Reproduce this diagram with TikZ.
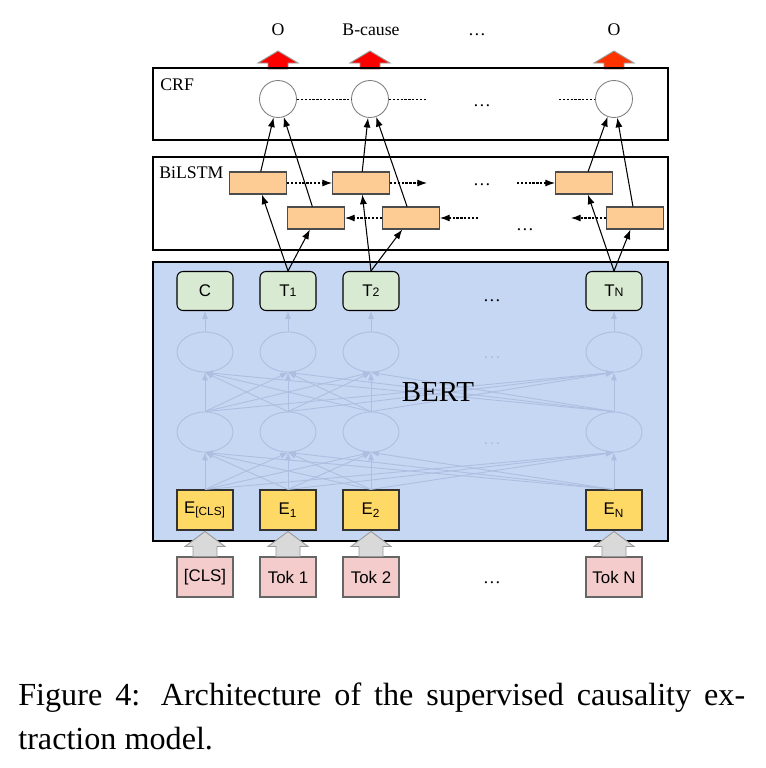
\documentclass[tikz,border=0pt]{standalone}
\usepackage{fontspec}
\setmainfont{Liberation Serif}
\setsansfont{Liberation Sans}
\usetikzlibrary{arrows.meta,shapes.geometric}
\definecolor{bertblue}{HTML}{C6D7F3}
\definecolor{faint}{HTML}{ADBEE0}
\definecolor{tgreen}{HTML}{D9EAD3}
\definecolor{eyellow}{HTML}{FFD966}
\definecolor{tokpink}{HTML}{F4CCCC}
\definecolor{lstmorange}{HTML}{FDCB94}
\definecolor{outred}{HTML}{FF0000}
\definecolor{outorange}{HTML}{FF3300}
\definecolor{inputgray}{HTML}{D9D9D9}
\newcommand{\smallidx}[1]{{\fontsize{7}{8}\selectfont #1}}

\begin{document}
\begin{tikzpicture}[x=0.02cm,y=-0.02cm,
    frame/.style={draw=black,line width=1.4pt},
    lbl/.style={font=\fontsize{10.1}{12}\selectfont},
    sanslbl/.style={font=\sffamily\fontsize{9.6}{11}\selectfont},
    tbox/.style={draw=black,fill=tgreen,rounded corners=0.12cm,minimum width=1.12cm,
      minimum height=0.78cm,inner sep=0pt,line width=0.6pt,sanslbl},
    ebox/.style={draw=black!80,fill=eyellow,minimum width=1.12cm,minimum height=0.8cm,
      inner sep=0pt,line width=0.6pt,sanslbl},
    tokbox/.style={draw=black!60,fill=tokpink,minimum width=1.12cm,minimum height=0.8cm,
      inner sep=0pt,line width=0.6pt,sanslbl},
    hidden/.style={draw=faint,ellipse,minimum width=1.12cm,minimum height=0.8cm,
      inner sep=0pt,line width=0.5pt},
    cell/.style={draw=black!70,fill=lstmorange,minimum width=1.14cm,minimum height=0.44cm,
      inner sep=0pt,line width=0.6pt},
    tag/.style={circle,draw=black!50,fill=white,minimum size=0.74cm,inner sep=0pt,line width=0.5pt},
    link/.style={-{Latex[length=5.5pt,width=4pt]},line width=0.6pt},
    recur/.style={link,dash pattern=on 1.3pt off 0.9pt},
    chain/.style={dash pattern=on 1.3pt off 0.9pt,line width=0.5pt},
    attn/.style={draw=faint,line width=0.5pt,-{Latex[length=4.5pt,width=3.5pt]}},
    dots/.style={lbl,anchor=base},
    pics/redup/.style={code={\path[pic actions] (-10,1) -- (-10,-5) -- (-20,-5) -- (0,-17)
      -- (20,-5) -- (10,-5) -- (10,1) -- cycle;}},
    pics/grayup/.style={code={\path[pic actions] (-12,0) -- (-12,-10) -- (-20,-10) -- (0,-25)
      -- (20,-10) -- (12,-10) -- (12,0) -- cycle;}},
  ]
  \useasboundingbox (0,0) rectangle (766,768);

  % outputs
  \node[dots] (o1) at (278,35) {O};
  \node[dots] (o2) at (371,35) {B-cause};
  \node[dots] (od) at (477,35) {…};
  \node[dots] (oN) at (614,35) {O};

  % CRF layer
  \draw
    (278,99) node[tag] (c1){}
    (370,99) node[tag] (c2){}
    (614,99) node[tag] (cN){};
  \coordinate (crfnw) at (153,68);
  \path (c1 |- crfnw) pic[fill=outred,draw=black!40,line width=0.5pt] {redup};
  \path (c2 |- crfnw) pic[fill=outred,draw=black!40,line width=0.5pt] {redup};
  \path (cN |- crfnw) pic[fill=outorange,draw=black!40,line width=0.5pt] {redup};
  \draw[frame] (crfnw) rectangle (668,140);
  \node[lbl,anchor=base west,inner sep=0pt] (crflbl) at (160,90) {CRF};
  \node[dots] (crfd) at (482,106) {…};
  \coordinate (crfgo) at (427,99);
  \coordinate (crfin) at (559,99);
  \draw[chain] (c1) -- (c2);
  \draw[chain] (c2) -- (crfgo);
  \draw[chain] (crfin) -- (cN);

  % BiLSTM layer
  \draw[frame] (153,157) rectangle (668,250);
  \node[lbl,anchor=base west,inner sep=0pt] (lstmlbl) at (159,178) {BiLSTM};
  \draw
    (258,183) node[cell] (f1){}
    (361,183) node[cell] (f2){}
    (584,183) node[cell] (fN){}
    (316,218) node[cell] (b1){}
    (411,218) node[cell] (b2){}
    (635,218) node[cell] (bN){};
  \node[dots] (fd) at (482,185) {…};
  \node[dots] (bd) at (525,230) {…};
  \coordinate (fwdgo) at (427,183);
  \coordinate (fwdin) at (517,183);
  \coordinate (bwdin) at (478,218);
  \coordinate (bwdgo) at (571,218);
  \begin{scope}[recur]
    \draw (f1) -- (f2);
    \draw (f2) -- (fwdgo);
    \draw (fwdin) -- (fN);
    \draw (b2) -- (b1);
    \draw (bwdin) -- (b2);
    \draw (bN) -- (bwdgo);
  \end{scope}

  % BERT
  \draw[frame,fill=bertblue] (153,262) rectangle (668,541);
  \draw
    (205,291) node[tbox] (t0){C}
    (288,291) node[tbox] (t1){T\smallidx{1}}
    (371,291) node[tbox] (t2){T\smallidx{2}}
    (614,291) node[tbox] (tN){T\smallidx{N}};
  \node[dots] (td) at (492,301) {…};
  \draw
    (205,352) node[hidden] (u0){}
    (288,352) node[hidden] (u1){}
    (371,352) node[hidden] (u2){}
    (614,352) node[hidden] (uN){}
    (205,432) node[hidden] (l0){}
    (288,432) node[hidden] (l1){}
    (371,432) node[hidden] (l2){}
    (614,432) node[hidden] (lN){};
  \node[dots,text=faint] (ud) at (492,358) {…};
  \node[dots,text=faint] (ld) at (492,444) {…};
  \draw
    (205,510) node[ebox] (e0){E\textsubscript{[CLS]}}
    (288,510) node[ebox] (e1){E\textsubscript{1}}
    (371,510) node[ebox] (e2){E\textsubscript{2}}
    (614,510) node[ebox] (eN){E\textsubscript{N}};
  \begin{scope}[attn]
    \draw (u0) -- (t0);
    \draw (u1) -- (t1);
    \draw (u2) -- (t2);
    \draw (uN) -- (tN);
    \draw (l0.north) -- (u0.south);
    \draw (l0.north) -- (u1.south);
    \draw (l0.north) -- (u2.south);
    \draw (l0.north) -- (uN.south);
    \draw (l1.north) -- (u0.south);
    \draw (l1.north) -- (u1.south);
    \draw (l1.north) -- (u2.south);
    \draw (l1.north) -- (uN.south);
    \draw (l2.north) -- (u0.south);
    \draw (l2.north) -- (u1.south);
    \draw (l2.north) -- (u2.south);
    \draw (l2.north) -- (uN.south);
    \draw (lN.north) -- (u0.south);
    \draw (lN.north) -- (u1.south);
    \draw (lN.north) -- (u2.south);
    \draw (lN.north) -- (uN.south);
    \draw (e0.north) -- (l0.south);
    \draw (e0.north) -- (l1.south);
    \draw (e0.north) -- (l2.south);
    \draw (e0.north) -- (lN.south);
    \draw (e1.north) -- (l0.south);
    \draw (e1.north) -- (l1.south);
    \draw (e1.north) -- (l2.south);
    \draw (e1.north) -- (lN.south);
    \draw (e2.north) -- (l0.south);
    \draw (e2.north) -- (l1.south);
    \draw (e2.north) -- (l2.south);
    \draw (e2.north) -- (lN.south);
    \draw (eN.north) -- (l0.south);
    \draw (eN.north) -- (l1.south);
    \draw (eN.north) -- (l2.south);
    \draw (eN.north) -- (lN.south);
  \end{scope}
  \node[font=\fontsize{16.5}{19}\selectfont] (bert) at (438,392) {BERT};

  % tokens
  \draw
    (205,577) node[tokbox] (k0){[CLS]}
    (288,577) node[tokbox] (k1){Tok 1}
    (371,577) node[tokbox] (k2){Tok 2}
    (614,577) node[tokbox] (kN){Tok N};
  \node[dots] (kd) at (492,583) {…};
  \path (k0.north) pic[fill=inputgray,draw=black!40,line width=0.5pt] {grayup};
  \path (k1.north) pic[fill=inputgray,draw=black!40,line width=0.5pt] {grayup};
  \path (k2.north) pic[fill=inputgray,draw=black!40,line width=0.5pt] {grayup};
  \path (kN.north) pic[fill=inputgray,draw=black!40,line width=0.5pt] {grayup};

  % T -> BiLSTM -> CRF
  \begin{scope}[link]
    \draw (t1.north) to (f1);
    \draw (t1.north) to (b1);
    \draw (t2.north) to (f2);
    \draw (t2.north) to (b2);
    \draw (tN.north) to (fN);
    \draw (tN.north) to (bN);
    \draw (f1) to (c1);
    \draw (b1) to (c1);
    \draw (f2) to (c2);
    \draw (b2) to (c2);
    \draw (fN) to (cN);
    \draw (bN) to (cN);
  \end{scope}

  % caption
  \node[anchor=base west,inner sep=0pt,text width=14.54cm,align=justify,
    font=\fontsize{18.3}{25.6}\selectfont] (cap) at (18,705)
    {Figure 4: Architecture of the supervised causality ex-\linebreak traction model.};
\end{tikzpicture}
\end{document}
